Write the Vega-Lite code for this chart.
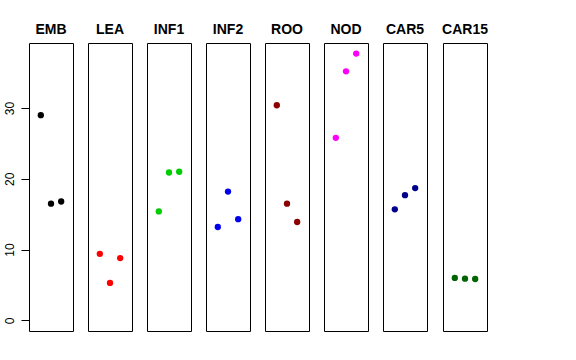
{
  "$schema": "https://vega.github.io/schema/vega-lite/v6.json",
  "padding": {"left": 2, "top": 22, "right": 0, "bottom": 0},
  "background": "white",
  "config": {
    "view": {"stroke": "black", "strokeWidth": 1},
    "concat": {"spacing": 13},
    "title": {"fontSize": 14, "fontWeight": "bold", "font": "Liberation Sans", "color": "black", "anchor": "middle", "offset": 6}
  },
  "data": {"values": [
    {"group": "EMB", "idx": 1, "value": 29.0},
    {"group": "EMB", "idx": 2, "value": 16.5},
    {"group": "EMB", "idx": 3, "value": 16.8},
    {"group": "LEA", "idx": 1, "value": 9.4},
    {"group": "LEA", "idx": 2, "value": 5.3},
    {"group": "LEA", "idx": 3, "value": 8.8},
    {"group": "INF1", "idx": 1, "value": 15.4},
    {"group": "INF1", "idx": 2, "value": 20.9},
    {"group": "INF1", "idx": 3, "value": 21.0},
    {"group": "INF2", "idx": 1, "value": 13.2},
    {"group": "INF2", "idx": 2, "value": 18.2},
    {"group": "INF2", "idx": 3, "value": 14.3},
    {"group": "ROO", "idx": 1, "value": 30.4},
    {"group": "ROO", "idx": 2, "value": 16.5},
    {"group": "ROO", "idx": 3, "value": 13.9},
    {"group": "NOD", "idx": 1, "value": 25.8},
    {"group": "NOD", "idx": 2, "value": 35.2},
    {"group": "NOD", "idx": 3, "value": 37.7},
    {"group": "CAR5", "idx": 1, "value": 15.7},
    {"group": "CAR5", "idx": 2, "value": 17.7},
    {"group": "CAR5", "idx": 3, "value": 18.7},
    {"group": "CAR15", "idx": 1, "value": 6.0},
    {"group": "CAR15", "idx": 2, "value": 5.9},
    {"group": "CAR15", "idx": 3, "value": 5.85}
  ]},
  "hconcat": [
    {"title": "EMB", "width": 44, "height": 288, "transform": [{"filter": "datum.group == 'EMB'"}], "mark": {"type": "circle", "size": 40, "opacity": 1},
     "encoding": {"x": {"field": "idx", "type": "quantitative", "scale": {"domain": [-0.16, 4.16], "nice": false, "zero": false}, "axis": null},
      "y": {"field": "value", "type": "quantitative", "scale": {"domain": [-1.5, 39.2], "nice": false, "zero": false}, "axis": {"title": null, "values": [0, 10, 20, 30], "grid": false, "domain": false, "tickSize": 8, "tickColor": "black", "labelAngle": -90, "labelFontSize": 12, "labelFont": "Liberation Sans", "labelColor": "black", "labelPadding": 5, "labelAlign": "center", "labelBaseline": "bottom"}},
      "color": {"field": "group", "type": "nominal", "scale": {"domain": ["EMB", "LEA", "INF1", "INF2", "ROO", "NOD", "CAR5", "CAR15"], "range": ["#000000", "#FF0000", "#00CD00", "#0000EE", "#8B0000", "#FF00FF", "#00008B", "#006400"]}, "legend": null}}},
    {"title": "LEA", "width": 44, "height": 288, "transform": [{"filter": "datum.group == 'LEA'"}], "mark": {"type": "circle", "size": 40, "opacity": 1},
     "encoding": {"x": {"field": "idx", "type": "quantitative", "scale": {"domain": [-0.16, 4.16], "nice": false, "zero": false}, "axis": null},
      "y": {"field": "value", "type": "quantitative", "scale": {"domain": [-1.5, 39.2], "nice": false, "zero": false}, "axis": null},
      "color": {"field": "group", "type": "nominal", "legend": null}}},
    {"title": "INF1", "width": 44, "height": 288, "transform": [{"filter": "datum.group == 'INF1'"}], "mark": {"type": "circle", "size": 40, "opacity": 1},
     "encoding": {"x": {"field": "idx", "type": "quantitative", "scale": {"domain": [-0.16, 4.16], "nice": false, "zero": false}, "axis": null},
      "y": {"field": "value", "type": "quantitative", "scale": {"domain": [-1.5, 39.2], "nice": false, "zero": false}, "axis": null},
      "color": {"field": "group", "type": "nominal", "legend": null}}},
    {"title": "INF2", "width": 44, "height": 288, "transform": [{"filter": "datum.group == 'INF2'"}], "mark": {"type": "circle", "size": 40, "opacity": 1},
     "encoding": {"x": {"field": "idx", "type": "quantitative", "scale": {"domain": [-0.16, 4.16], "nice": false, "zero": false}, "axis": null},
      "y": {"field": "value", "type": "quantitative", "scale": {"domain": [-1.5, 39.2], "nice": false, "zero": false}, "axis": null},
      "color": {"field": "group", "type": "nominal", "legend": null}}},
    {"title": "ROO", "width": 44, "height": 288, "transform": [{"filter": "datum.group == 'ROO'"}], "mark": {"type": "circle", "size": 40, "opacity": 1},
     "encoding": {"x": {"field": "idx", "type": "quantitative", "scale": {"domain": [-0.16, 4.16], "nice": false, "zero": false}, "axis": null},
      "y": {"field": "value", "type": "quantitative", "scale": {"domain": [-1.5, 39.2], "nice": false, "zero": false}, "axis": null},
      "color": {"field": "group", "type": "nominal", "legend": null}}},
    {"title": "NOD", "width": 44, "height": 288, "transform": [{"filter": "datum.group == 'NOD'"}], "mark": {"type": "circle", "size": 40, "opacity": 1},
     "encoding": {"x": {"field": "idx", "type": "quantitative", "scale": {"domain": [-0.16, 4.16], "nice": false, "zero": false}, "axis": null},
      "y": {"field": "value", "type": "quantitative", "scale": {"domain": [-1.5, 39.2], "nice": false, "zero": false}, "axis": null},
      "color": {"field": "group", "type": "nominal", "legend": null}}},
    {"title": "CAR5", "width": 44, "height": 288, "transform": [{"filter": "datum.group == 'CAR5'"}], "mark": {"type": "circle", "size": 40, "opacity": 1},
     "encoding": {"x": {"field": "idx", "type": "quantitative", "scale": {"domain": [-0.16, 4.16], "nice": false, "zero": false}, "axis": null},
      "y": {"field": "value", "type": "quantitative", "scale": {"domain": [-1.5, 39.2], "nice": false, "zero": false}, "axis": null},
      "color": {"field": "group", "type": "nominal", "legend": null}}},
    {"title": "CAR15", "width": 44, "height": 288, "transform": [{"filter": "datum.group == 'CAR15'"}], "mark": {"type": "circle", "size": 40, "opacity": 1},
     "encoding": {"x": {"field": "idx", "type": "quantitative", "scale": {"domain": [-0.16, 4.16], "nice": false, "zero": false}, "axis": null},
      "y": {"field": "value", "type": "quantitative", "scale": {"domain": [-1.5, 39.2], "nice": false, "zero": false}, "axis": null},
      "color": {"field": "group", "type": "nominal", "legend": null}}}
  ]
}
